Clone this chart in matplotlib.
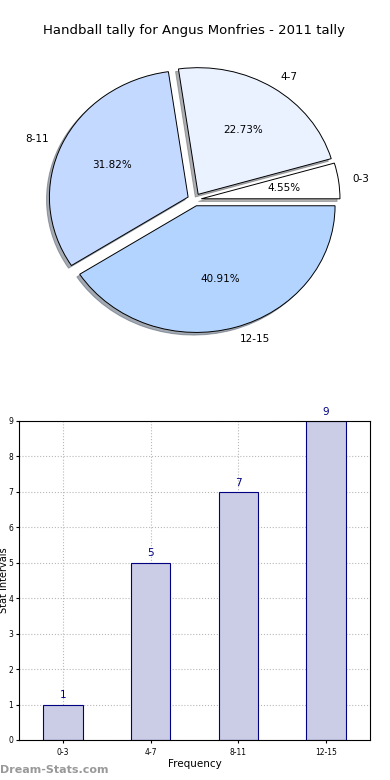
import matplotlib
matplotlib.use("Agg")
import matplotlib.pyplot as plt

# data
intervals = ["0-3", "4-7", "8-11", "12-15"]
counts = [1, 5, 7, 9]
slice_colors = ["#ffffff", "#eaf1ff", "#c4d9ff", "#b3d4ff"]
explode = [0.05, 0.05, 0.05, 0.05]

fig = plt.figure(figsize=(3.9, 7.8), dpi=100)

# pie
ax1 = fig.add_axes([0.054, 0.5410, 0.889, 0.406])
wedges, texts, autotexts = ax1.pie(
    counts, labels=intervals, colors=slice_colors, explode=explode,
    autopct="%1.2f%%", shadow={"ox": -0.015, "oy": -0.015, "shade": 0.6},
    startangle=0,
    wedgeprops={"edgecolor": "black", "linewidth": 0.7},
    textprops={"fontsize": 7.5},
)
ax1.set_aspect("auto")
ax1.set_xlim(-1.25, 1.25)
ax1.set_ylim(-1.25, 1.25)
ax1.set_title("Handball tally for Angus Monfries - 2011 tally", fontsize=9.5, pad=5)

# bars
ax2 = fig.add_axes([0.0487, 0.0513, 0.9, 0.409])
x = list(range(len(intervals)))
ax2.bar(x, counts, width=0.45, color="#cbcce6", edgecolor="#000080",
        linewidth=0.8, zorder=2)
for xi, c in zip(x, counts):
    ax2.text(xi, c + 0.12, str(c), ha="center", va="bottom",
             fontsize=7.5, color="#000080")
ax2.set_xlim(-0.5, 3.5)
ax2.set_ylim(0, 9)
ax2.set_xticks(x)
ax2.set_xticklabels(intervals)
ax2.set_yticks(range(0, 10))
ax2.tick_params(labelsize=5.5, length=2)
ax2.tick_params(axis="y", pad=2)
ax2.grid(True, linestyle=":", color="#b8b8b8", linewidth=0.8, zorder=0)
ax2.set_axisbelow(True)
ax2.set_xlabel("Frequency", fontsize=7.5, labelpad=2)
fig.text(0.0095, 0.2560, "Stat Intervals", fontsize=7, rotation=90,
         ha="center", va="center")

fig.text(0.0, 0.0128, "Dream-Stats.com", fontsize=8, color="#999999",
         ha="left", va="center", fontweight="bold")

fig.savefig("out.png", dpi=100)
